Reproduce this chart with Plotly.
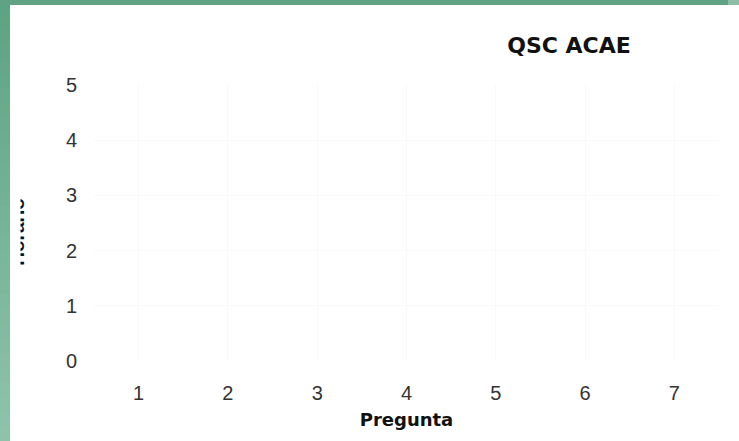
import plotly.graph_objects as go

# ---- data (chart is empty: no values plotted) ----
preguntas = [1, 2, 3, 4, 5, 6, 7]
valores = [None, None, None, None, None, None, None]
y_ticks = [0, 1, 2, 3, 4, 5]
titulo = "QSC ACAE"
x_titulo = "Pregunta"
y_titulo = "Horario"

W, H = 739, 441
L, R, T, B = 94, 20, 85, 80
PW, PH = W - L - R, H - T - B


def px(x):
    return (x - L) / PW


def py(y):
    return (H - B - y) / PH


fig = go.Figure(go.Bar(x=preguntas, y=valores, marker_color="#4f81bd", showlegend=False))

shapes = []
# green slide border (gradient approximated with strips)
top_c = (94, 163, 131)
bot_c = (142, 195, 170)
N = 30
for i in range(N):
    t = i / (N - 1)
    c = tuple(int(round(top_c[k] + (bot_c[k] - top_c[k]) * t)) for k in range(3))
    shapes.append(dict(type="rect", xref="paper", yref="paper",
                       x0=px(0), x1=px(10), y0=py(H * i / N), y1=py(H * (i + 1) / N + 1),
                       fillcolor="rgb(%d,%d,%d)" % c, line_width=0, layer="above"))
shapes.append(dict(type="rect", xref="paper", yref="paper",
                   x0=px(0), x1=px(W), y0=py(0), y1=py(5),
                   fillcolor="rgb(95,163,132)", line_width=0, layer="above"))
shapes.append(dict(type="rect", xref="paper", yref="paper",
                   x0=px(728), x1=px(W), y0=py(0), y1=py(5),
                   fillcolor="rgb(140,190,166)", line_width=0, layer="above"))
# y-axis title, partially clipped like the reference
shapes.append(dict(type="rect", xref="paper", yref="paper",
                   x0=px(-5), x1=px(35), y0=py(282), y1=py(182),
                   fillcolor="rgba(0,0,0,0)", line_width=0, layer="above",
                   label=dict(text=y_titulo, textangle=-90, textposition="middle center",
                              font=dict(family="Liberation Sans", size=19, color="#111111", weight="bold"))))
shapes.append(dict(type="rect", xref="paper", yref="paper",
                   x0=px(10), x1=px(20.5), y0=py(5), y1=py(H),
                   fillcolor="white", line_width=0, layer="above"))

fig.update_layout(
    width=W, height=H,
    margin=dict(l=L, r=R, t=T, b=B),
    paper_bgcolor="white", plot_bgcolor="white",
    font=dict(family="Liberation Sans", color="#333333"),
    title=dict(text=titulo, x=px(569), xref="paper", xanchor="center",
               y=1 - 45 / H, yref="container", yanchor="middle",
               font=dict(family="DejaVu Sans", size=22, color="#111111", weight="bold")),
    xaxis=dict(range=[0.5, 7.5], tickvals=preguntas, showline=False, zeroline=False,
               showgrid=True, gridcolor="#f9f9f9", ticks="",
               tickfont=dict(size=20, color="#333333"), ticklabelstandoff=18,
               title=dict(text=x_titulo, standoff=10,
                          font=dict(family="DejaVu Sans", size=18, color="#111111", weight="bold"))),
    yaxis=dict(range=[0, 5], tickvals=y_ticks, showline=False, zeroline=False,
               showgrid=True, gridcolor="#f9f9f9", ticks="",
               tickfont=dict(size=20, color="#333333"), ticklabelstandoff=16),
    shapes=shapes,
    bargap=0.3,
)

fig.write_html("out.html", config={"displayModeBar": False},
               post_script="document.body.style.margin='0';document.body.style.overflow='hidden';")
